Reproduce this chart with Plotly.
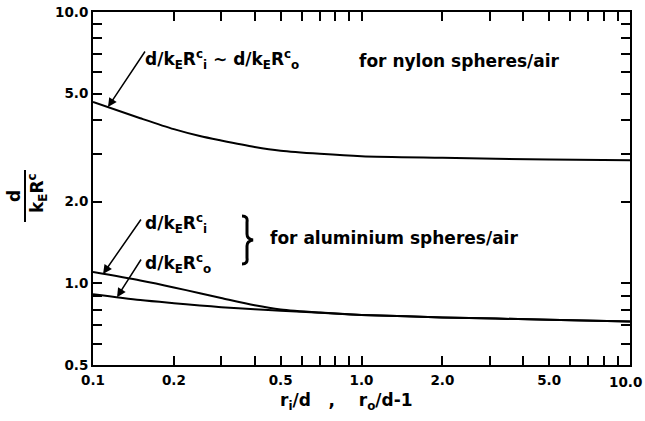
import numpy as np
import plotly.graph_objects as go

# Abscissa: r_i/d (or r_o/d - 1)
x_vals = [0.1, 0.15, 0.2, 0.25, 0.3, 0.4, 0.5, 0.7, 1.0, 2.0, 5.0, 10.0]
# d / (k_E R^c) for nylon spheres in air (inner and outer curves coincide)
nylon = [4.66, 4.06, 3.70, 3.49, 3.36, 3.18, 3.08, 3.00, 2.94, 2.90, 2.86, 2.84]
# d / (k_E R_i^c) and d / (k_E R_o^c) for aluminium spheres in air
alu_inner = [1.10, 1.024, 0.966, 0.919, 0.883, 0.830, 0.801, 0.780, 0.765, 0.749, 0.734, 0.723]
alu_outer = [0.912, 0.868, 0.845, 0.829, 0.817, 0.802, 0.792, 0.779, 0.765, 0.749, 0.734, 0.723]

x_ticks = [0.1, 0.2, 0.5, 1.0, 2.0, 5.0, 10.0]
x_ticktext = ["0.1", "0.2", "0.5", "1.0", "2.0", "5.0", "10.0"]
x_minor = [0.3, 0.4, 0.6, 0.7, 0.8, 0.9, 3, 4, 6, 7, 8, 9]
y_ticks = [0.5, 1.0, 2.0, 5.0, 10.0]
y_ticktext = ["0.5", "1.0", "2.0", "5.0", "10.0"]
y_minor = [0.6, 0.7, 0.8, 0.9, 3, 4, 6, 7, 8, 9]

W, H = 645, 421
L, R, T, B = 93, 630, 12, 365
FONT = "DejaVu Sans"
TICK_SIZE = 13.5
Y_LO = np.log10(0.5)


def px_x(px):
    return (px - L) / (R - L)


def px_y(py):
    return (B - py) / (B - T)


def on_curve(xv, series):
    """log10 coordinates of a point on a curve at abscissa xv."""
    ly = np.interp(np.log10(xv), np.log10(x_vals), np.log10(series))
    return float(np.log10(xv)), float(ly)


fig = go.Figure()
for ys in (nylon, alu_inner, alu_outer):
    fig.add_trace(go.Scatter(
        x=x_vals, y=ys, mode="lines",
        line=dict(color="black", width=2, shape="spline", smoothing=0.8),
        showlegend=False, hoverinfo="skip",
    ))

axis_common = dict(
    type="log", ticks="inside", ticklen=9, tickwidth=1.5, tickcolor="black",
    showline=True, linewidth=2, linecolor="black", mirror="ticks",
    showgrid=False, zeroline=False, automargin=False,
    tickfont=dict(family=FONT, size=TICK_SIZE, color="black", weight="bold"),
)

# the last x label sits at the right edge, so it is drawn right-aligned separately
x_ticktext_axis = x_ticktext[:-1] + [""]
fig.update_xaxes(
    range=[-1, 1], tickmode="array", tickvals=x_ticks, ticktext=x_ticktext_axis,
    ticklabelstandoff=2,
    minor=dict(tickmode="array", tickvals=x_minor, ticks="inside", ticklen=9,
               tickwidth=1.5, tickcolor="black", showgrid=False),
    **axis_common,
)
fig.update_yaxes(
    range=[Y_LO, 1], tickmode="array", tickvals=y_ticks, ticktext=y_ticktext,
    minor=dict(tickmode="array", tickvals=y_minor, ticks="inside", ticklen=9,
               tickwidth=1.5, tickcolor="black", showgrid=False),
    **axis_common,
)

annotations = []


def text_at(txt, px, py, anchor="left", angle=0, size=17):
    annotations.append(dict(
        text=txt, xref="paper", yref="paper", x=px_x(px), y=px_y(py),
        xanchor=anchor, yanchor="middle", showarrow=False, textangle=angle,
        font=dict(family=FONT, size=size, color="black", weight="bold"),
    ))


def arrow_to(xv, series, tail_px, tail_py):
    lx, ly = on_curve(xv, series)
    tip_px = L + (lx + 1) / 2 * (R - L)
    tip_py = B - (ly - Y_LO) / (1 - Y_LO) * (B - T)
    annotations.append(dict(
        text="", x=lx, y=ly, xref="x", yref="y",
        ax=tail_px - tip_px, ay=tail_py - tip_py, axref="pixel", ayref="pixel",
        showarrow=True, arrowhead=2, arrowsize=1.2, arrowwidth=1.5,
        arrowcolor="black",
    ))


# right-most x tick label
annotations.append(dict(
    text=x_ticktext[-1], xref="paper", yref="paper", x=px_x(644), y=px_y(381.5),
    xanchor="right", yanchor="middle", showarrow=False,
    font=dict(family=FONT, size=TICK_SIZE, color="black", weight="bold"),
))

# curve labels
text_at("d/k<sub>E</sub>R<sup>c</sup><sub>i</sub> \u223c d/k<sub>E</sub>R<sup>c</sup><sub>o</sub>", 143, 60)
text_at("for nylon spheres/air", 357, 61)
text_at("d/k<sub>E</sub>R<sup>c</sup><sub>i</sub>", 143, 224)
text_at("d/k<sub>E</sub>R<sup>c</sup><sub>o</sub>", 143, 263)
text_at("for aluminium spheres/air", 268, 238)

arrow_to(0.1137, nylon, 146, 50)
arrow_to(0.109, alu_inner, 142, 218)
arrow_to(0.1229, alu_outer, 142, 258)

# x-axis title
text_at("r<sub>i</sub>/d\u00a0\u00a0\u00a0,\u00a0\u00a0\u00a0\u00a0r<sub>o</sub>/d-1", 346, 401, anchor="center")

# y-axis title drawn as a fraction
text_at("d", 14, 196, anchor="center", angle=-90)
text_at("k<sub>E</sub>R<sup>c</sup>", 37, 193, anchor="center", angle=-90)

shapes = [
    dict(type="line", xref="paper", yref="paper",
         x0=px_x(25), x1=px_x(25), y0=px_y(170), y1=px_y(222),
         line=dict(color="black", width=2)),
]

# curly brace grouping the two aluminium labels
bx, by_top, by_mid, by_bot = 247, 216, 240, 264


def P(px, py):
    return f"{px_x(px):.5f},{px_y(py):.5f}"


brace = (
    f"M {P(bx - 5, by_top)} Q {P(bx + 1, by_top)} {P(bx, by_top + 6)} "
    f"L {P(bx, by_mid - 6)} Q {P(bx, by_mid - 1)} {P(bx + 6, by_mid)} "
    f"Q {P(bx, by_mid + 1)} {P(bx, by_mid + 6)} "
    f"L {P(bx, by_bot - 6)} Q {P(bx + 1, by_bot)} {P(bx - 5, by_bot)}"
)
shapes.append(dict(type="path", xref="paper", yref="paper", path=brace,
                   line=dict(color="black", width=3)))

fig.update_layout(
    width=W, height=H,
    margin=dict(l=L, r=W - R, t=T, b=H - B, autoexpand=False),
    paper_bgcolor="white", plot_bgcolor="white",
    annotations=annotations, shapes=shapes,
    font=dict(family=FONT, color="black"),
)

fig.write_html("out.html")
